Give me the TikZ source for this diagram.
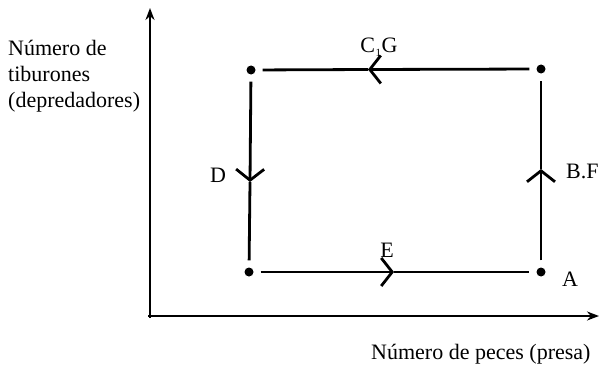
\documentclass[tikz,border=0pt]{standalone}
\usepackage{fontspec}
\setmainfont{Liberation Serif}
\usetikzlibrary{arrows.meta}
\tikzset{
  dotnode/.style={circle,fill=black,inner sep=0pt,minimum size=9pt},
  half/.style={line width=2.8pt},
  chev/.style={-{Straight Barb[length=11pt,width=28pt,line width=2.8pt]}},
  axis/.style={line width=2.6pt,-{Stealth[length=12pt,width=9pt]}},
  lbl/.style={font=\fontsize{22}{26}\selectfont,inner sep=0pt}
}
\begin{document}
\begin{tikzpicture}[x=1pt,y=-1pt]
\useasboundingbox (0,0) rectangle (602,369);
% axes
\coordinate (Ytop) at (150,8);
\coordinate (Xend) at (599,316);
\draw[axis] (150,318) -- (Ytop);
\draw[axis] (148,316) -- (Xend);
% dots
\node[dotnode] (A) at (541,272) {};
\node[dotnode] (B) at (541,69) {};
\node[dotnode] (C) at (251,70) {};
\node[dotnode] (D) at (249,272) {};
% chevron points
\coordinate (mBF) at (541,169);
\coordinate (mC) at (368,69.5);
\coordinate (mD) at (250,182);
\coordinate (mE) at (394,272);
% right side (up)
\draw[half,chev,shorten <=7pt] (A) -- (mBF);
\draw[half,shorten >=7pt] (mBF) -- (B);
% top side (left)
\draw[half,chev,shorten <=7pt] (B) -- (mC);
\draw[half,shorten >=7pt] (mC) -- (C);
% left side (down)
\draw[half,chev,shorten <=7pt] (C) -- (mD);
\draw[half,shorten >=7pt] (mD) -- (D);
% bottom side (right)
\draw[half,chev,shorten <=7pt] (D) -- (mE);
\draw[half,shorten >=7pt] (mE) -- (A);
% labels
\node[lbl,anchor=center] (lC) at (379,47) {C\kern0.5pt\raisebox{-0.35ex}{\fontsize{11}{11}\selectfont 1}\kern0.5pt G};
\node[lbl,anchor=center] (lE) at (387,250) {E};
\node[lbl,anchor=center] (lD) at (218,175) {D};
\node[lbl,anchor=west] (lBF) at (566,171) {B.F};
\node[lbl,anchor=west] (lA) at (562,279) {A};
\node[lbl,anchor=north west,align=left] (ylab) at (8,40) {Número de\\tiburones\\(depredadores)};
\node[lbl,anchor=base west] (xlab) at (371,359) {Número de peces (presa)};
\end{tikzpicture}
\end{document}
